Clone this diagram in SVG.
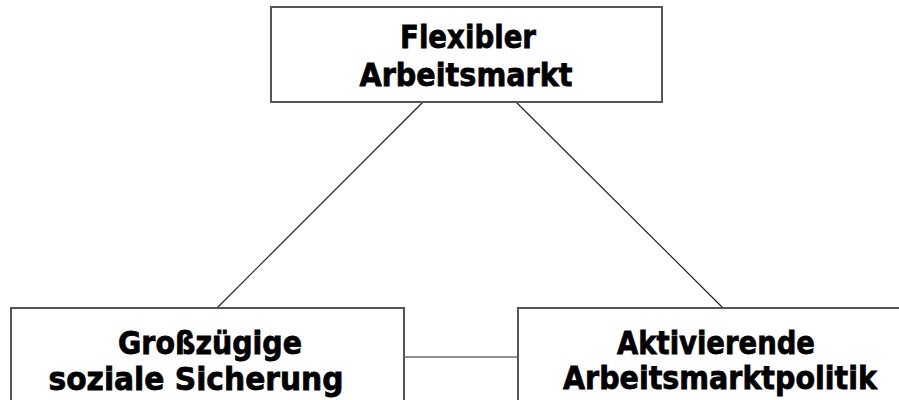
<svg xmlns="http://www.w3.org/2000/svg" width="899" height="400" viewBox="0 0 899 400">
<style>
.box{fill:#fff;stroke:#555;stroke-width:2}
.lbl{font-family:"DejaVu Sans",Verdana,sans-serif;font-weight:bold;font-size:32px;fill:#000;stroke:#000;stroke-width:0.8;text-anchor:middle}
.con{stroke:#222;stroke-width:1.2;fill:none}
</style>
<rect width="899" height="400" fill="#fff"/>
<g id="connectors">
<line class="con" x1="423" y1="102" x2="217" y2="308"/>
<line class="con" x1="516" y1="102" x2="723" y2="308"/>
<line class="con" x1="404" y1="357" x2="518" y2="357"/>
</g>
<g id="node-flexibler">
<rect class="box" x="271" y="7" width="391" height="95"/>
<text class="lbl" x="468" y="48" textLength="136" lengthAdjust="spacingAndGlyphs">Flexibler</text>
<text class="lbl" x="466" y="86" textLength="213" lengthAdjust="spacingAndGlyphs">Arbeitsmarkt</text>
</g>
<g id="node-sicherung">
<rect class="box" x="11" y="308" width="393" height="110"/>
<text class="lbl" x="210" y="354" textLength="184" lengthAdjust="spacingAndGlyphs">Großzügige</text>
<text class="lbl" x="196" y="390" textLength="295" lengthAdjust="spacingAndGlyphs">soziale Sicherung</text>
</g>
<g id="node-aktivierend">
<rect class="box" x="518" y="308" width="400" height="110"/>
<text class="lbl" x="716" y="354" textLength="198" lengthAdjust="spacingAndGlyphs">Aktivierende</text>
<text class="lbl" x="720" y="389" textLength="314" lengthAdjust="spacingAndGlyphs">Arbeitsmarktpolitik</text>
</g>
</svg>
